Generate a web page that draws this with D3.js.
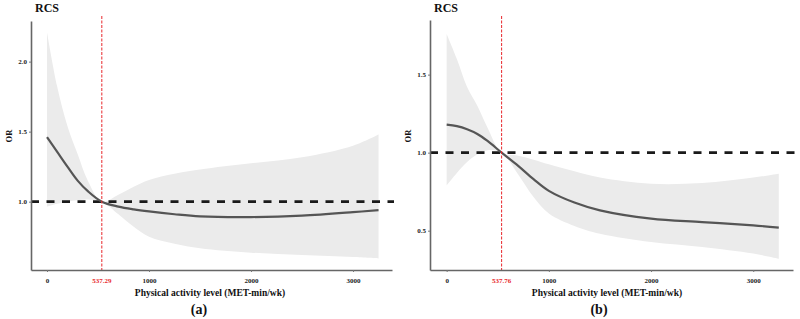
<!DOCTYPE html>
<html lang="en">
<head>
<meta charset="UTF-8">
<title>RCS</title>
<script src="https://d3js.org/d3.v7.min.js"></script>
<style>
  body { margin: 0; background: #fff; }
  svg text { font-family: "Liberation Serif", "Times New Roman", serif; font-weight: bold; }
</style>
</head>
<body>
<script>
  // panel (a)
  var xA  = [0, 100, 200, 300, 400, 537.29, 700, 850, 1000, 1250, 1500, 2000, 2500, 3000, 3250];
  var orA = [1.46, 1.355, 1.25, 1.15, 1.075, 1.0, 0.965, 0.945, 0.93, 0.91, 0.895, 0.89, 0.9, 0.925, 0.94];
  var upA = [2.21, 1.82, 1.54, 1.34, 1.15, 1.0, 1.05, 1.107, 1.155, 1.2, 1.23, 1.274, 1.317, 1.40, 1.48];
  var loA = [0.965, 0.985, 1.0, 1.01, 1.015, 1.0, 0.91, 0.82, 0.75, 0.70, 0.667, 0.636, 0.62, 0.605, 0.595];
  var refA = 537.29;
  var yTicksA = [1.0, 1.5, 2.0];

  // panel (b)
  var xB  = [0, 100, 200, 300, 400, 537.76, 700, 850, 1000, 1250, 1500, 2000, 2500, 3000, 3250];
  var orB = [1.18, 1.17, 1.15, 1.12, 1.075, 1.0, 0.915, 0.83, 0.755, 0.68, 0.63, 0.577, 0.555, 0.534, 0.52];
  var upB = [1.76, 1.60, 1.42, 1.30, 1.16, 1.0, 0.98, 0.955, 0.925, 0.88, 0.84, 0.80, 0.805, 0.84, 0.865];
  var loB = [0.79, 0.87, 0.94, 0.99, 1.015, 1.0, 0.86, 0.715, 0.61, 0.53, 0.48, 0.427, 0.395, 0.353, 0.32];
  var refB = 537.76;
  var yTicksB = [0.5, 1.0, 1.5];

  var xTicks = [0, 1000, 2000, 3000];

  var svg = d3.select("body").append("svg")
    .attr("width", 800)
    .attr("height", 319);

  function panel(cfg) {
    var x = d3.scaleLinear().domain(cfg.xDom).range([cfg.left, cfg.right]);
    var y = d3.scaleLinear().domain(cfg.yDom).range([cfg.bottom, cfg.top]);
    var g = svg.append("g");
    var smooth = d3.curveCatmullRom.alpha(0.5);

    var rows = cfg.xs.map(function (v, i) {
      return { x: v, or: cfg.or[i], up: cfg.up[i], lo: cfg.lo[i] };
    });

    // confidence band
    g.append("path")
      .datum(rows)
      .attr("fill", "#ebebeb")
      .attr("d", d3.area()
        .x(function (d) { return x(d.x); })
        .y0(function (d) { return y(d.lo); })
        .y1(function (d) { return y(d.up); })
        .curve(smooth));

    // reference line at OR = 1
    g.append("line")
      .attr("x1", cfg.left).attr("x2", cfg.right + 2)
      .attr("y1", y(1)).attr("y2", y(1))
      .attr("stroke", "#1a1a1a")
      .attr("stroke-width", 2.6)
      .attr("stroke-dasharray", "8,7.5");

    // spline
    g.append("path")
      .datum(rows)
      .attr("fill", "none")
      .attr("stroke", "#555")
      .attr("stroke-width", 2.2)
      .attr("d", d3.line()
        .x(function (d) { return x(d.x); })
        .y(function (d) { return y(d.or); })
        .curve(smooth));

    // red cut-off line
    g.append("line")
      .attr("x1", x(cfg.ref)).attr("x2", x(cfg.ref))
      .attr("y1", 16).attr("y2", cfg.bottom)
      .attr("stroke", "#e8262b")
      .attr("stroke-width", 1)
      .attr("stroke-dasharray", "3,1.5");

    // axes
    var xAxis = g.append("g")
      .attr("transform", "translate(0," + cfg.bottom + ")")
      .call(d3.axisBottom(x).tickValues(xTicks).tickSize(2).tickSizeOuter(0).tickPadding(6)
        .tickFormat(d3.format("d")));
    var yAxis = g.append("g")
      .attr("transform", "translate(" + cfg.left + ",0)")
      .call(d3.axisLeft(y).tickValues(cfg.yTicks).tickSize(2).tickSizeOuter(0).tickPadding(2)
        .tickFormat(d3.format(".1f")));

    [xAxis, yAxis].forEach(function (a) {
      a.select(".domain").attr("stroke", "#666").attr("stroke-width", 1.6);
      a.selectAll(".tick line").attr("stroke", "#777");
      a.selectAll(".tick text")
        .attr("fill", "#222")
        .style("font-size", "7px");
    });

    // cut-off label
    g.append("text")
      .attr("x", x(cfg.ref))
      .attr("y", cfg.bottom + 12.5)
      .attr("text-anchor", "middle")
      .attr("fill", "#e8262b")
      .style("font-size", "7px")
      .text(cfg.refLabel);

    g.append("text")
      .attr("x", cfg.left + 4)
      .attr("y", 12)
      .style("font-size", "12px")
      .attr("fill", "#111")
      .text("RCS");

    g.append("text")
      .attr("transform", "translate(" + (cfg.left - 19) + ",136) rotate(-90)")
      .attr("text-anchor", "middle")
      .style("font-size", "8.5px")
      .attr("fill", "#111")
      .text("OR");

    g.append("text")
      .attr("x", cfg.titleX)
      .attr("y", 296)
      .attr("text-anchor", "middle")
      .style("font-size", "9.5px")
      .attr("fill", "#111")
      .text("Physical activity level (MET-min/wk)");

    g.append("text")
      .attr("x", cfg.tagX)
      .attr("y", 314)
      .attr("text-anchor", "middle")
      .style("font-size", "14px")
      .attr("fill", "#111")
      .text(cfg.tag);
  }

  panel({
    xs: xA, or: orA, up: upA, lo: loA, ref: refA, refLabel: "537.29", yTicks: yTicksA,
    xDom: [-157, 3382], yDom: [0.512, 2.29],
    left: 31, right: 392, top: 21, bottom: 270,
    titleX: 210, tagX: 199, tag: "(a)"
  });

  panel({
    xs: xB, or: orB, up: upB, lo: loB, ref: refB, refLabel: "537.76", yTicks: yTicksB,
    xDom: [-163, 3389], yDom: [0.248, 1.85],
    left: 430, right: 793, top: 20, bottom: 270,
    titleX: 607, tagX: 599, tag: "(b)"
  });
</script>
</body>
</html>
